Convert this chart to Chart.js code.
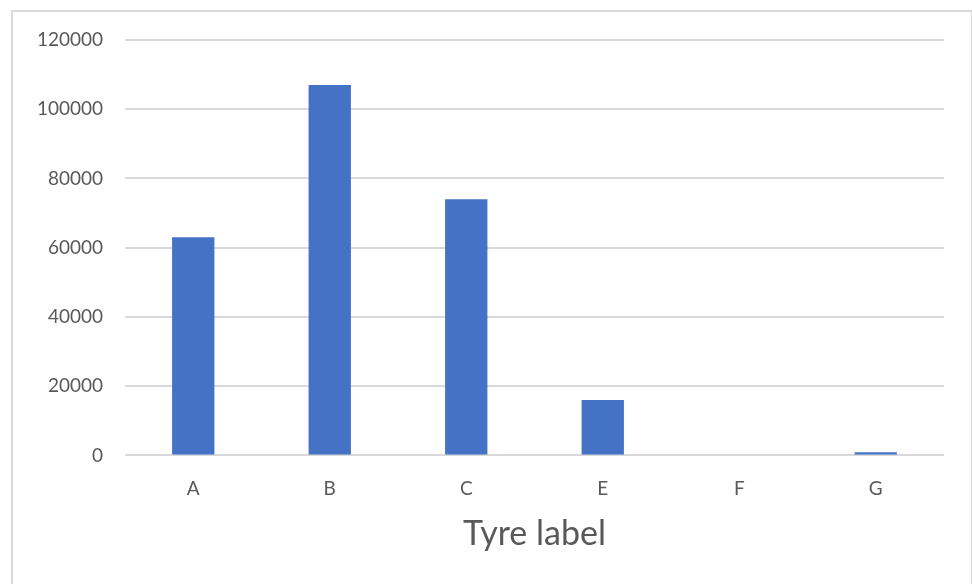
<!DOCTYPE html>
<html>
<head>
<meta charset="utf-8">
<script src="https://cdn.jsdelivr.net/npm/chart.js@4"></script>
<style>
  body { margin: 0; background: #fff; }
  #frame {
    position: absolute;
    left: 11px;
    top: 10px;
    width: 958px;
    height: 580px;
    border: 2px solid #d9d9d9;
    border-bottom: none;
  }
  #chart { display: block; }
</style>
</head>
<body>
<div id="frame"><canvas id="chart" width="958" height="572"></canvas></div>
<script>
const categories = ["A", "B", "C", "E", "F", "G"];
const counts = [63000, 107000, 74000, 16000, 0, 900];
const yTicks = [0, 20000, 40000, 60000, 80000, 100000, 120000];

const textColor = "#595959";
const gridColor = "#d9d9d9";

const ctx = document.getElementById("chart").getContext("2d");

new Chart(ctx, {
  type: "bar",
  data: {
    labels: categories,
    datasets: [
      {
        label: "Count",
        data: counts,
        backgroundColor: "#4472c4",
        categoryPercentage: 1,
        barPercentage: 0.31,
      },
    ],
  },
  options: {
    responsive: false,
    animation: false,
    layout: { padding: { top: 28, right: 27, bottom: 30, left: 0 } },
    plugins: {
      legend: { display: false },
      tooltip: { enabled: false },
    },
    scales: {
      x: {
        grid: { display: false, drawTicks: false },
        border: { display: false },
        ticks: {
          color: textColor,
          font: { family: "Lato", size: 19 },
          padding: 22,
        },
        title: {
          display: true,
          text: "Tyre label",
          color: textColor,
          font: { family: "Lato", size: 34 },
          padding: { top: -9, bottom: 0 },
        },
      },
      y: {
        min: 0,
        max: 120000,
        afterBuildTicks: (scale) => {
          scale.ticks = yTicks.map((v) => ({ value: v }));
        },
        afterFit: (scale) => {
          scale.width = 112;
          scale.paddingTop = 0;
          scale.paddingBottom = 0;
        },
        grid: { color: gridColor, lineWidth: 2, drawTicks: false },
        border: { display: false },
        ticks: {
          color: textColor,
          font: { family: "Lato", size: 19 },
          padding: 22,
          callback: (v) => String(v),
        },
      },
    },
  },
});
</script>
</body>
</html>
